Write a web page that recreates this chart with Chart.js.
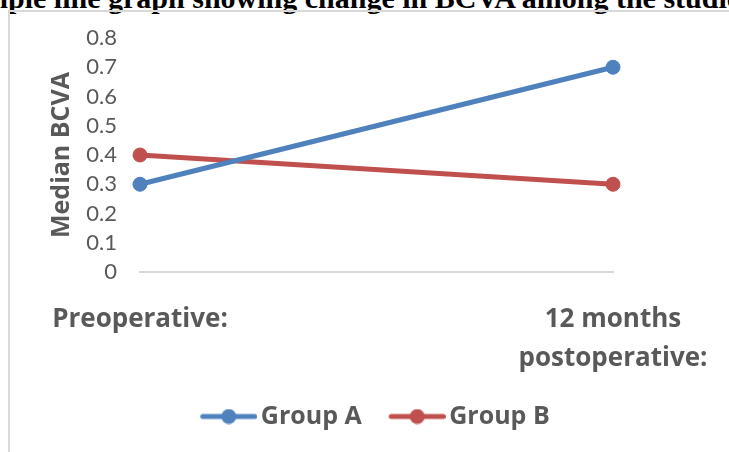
<!DOCTYPE html>
<html>
<head>
<meta charset="utf-8">
<script src="https://cdn.jsdelivr.net/npm/chart.js"></script>
<style>
    html, body { margin: 0; padding: 0; background: #fff; overflow: hidden; }
    body { width: 729px; height: 452px; position: relative; }
    #frame { position: absolute; left: 8px; top: 10px; width: 800px; height: 500px;
             border-left: 2px solid #d9d9d9; border-top: 2px solid #d9d9d9; }
    #title { position: absolute; top: -17px; left: 0; white-space: nowrap;
             font: bold 30px "Liberation Serif"; line-height: 1; color: #000; }
    #grafico { position: absolute; left: 0; top: 0; }
</style>
</head>
<body>
<div id="title"><span id="lead">Sim</span>ple line graph showing change in BCVA among the studied groups</div>
<div id="frame"></div>
<canvas id="grafico" width="729" height="452"></canvas>
<script>
// --- Dados ---
const categorias = ['Preoperative:', ['12 months', 'postoperative:']];
const grupoA = [0.3, 0.7];
const grupoB = [0.4, 0.3];
const nomesSeries = ['Group A', 'Group B'];
const yMin = 0, yMax = 0.8, yPasso = 0.1;
const tituloY = 'Median BCVA';

const azul = '#4F81BD';
const vermelho = '#C0504D';
const cinzaTexto = '#595959';
const fonteNegrito = '"Open Sans"';

// titulo cortado no topo
const titulo = document.getElementById('title');
titulo.style.left = (8 - document.getElementById('lead').offsetWidth) + 'px';

// marcador da legenda: linha com bolinha no meio
function marcador(cor) {
    const c = document.createElement('canvas');
    c.width = 63; c.height = 16;
    const ctx = c.getContext('2d');
    ctx.strokeStyle = cor;
    ctx.lineWidth = 5;
    ctx.lineCap = 'round';
    ctx.beginPath();
    ctx.moveTo(8.5, 8); ctx.lineTo(60.5, 8);
    ctx.stroke();
    ctx.fillStyle = cor;
    ctx.beginPath();
    ctx.arc(34.5, 8, 7.5, 0, Math.PI * 2);
    ctx.fill();
    return c;
}

Chart.defaults.font.family = 'Lato';
Chart.defaults.color = cinzaTexto;

new Chart(document.getElementById('grafico'), {
    type: 'line',
    data: {
        labels: categorias,
        datasets: [{
            label: nomesSeries[0],
            data: grupoA,
            borderColor: azul,
            backgroundColor: azul,
            borderWidth: 5,
            pointRadius: 7,
            pointBorderWidth: 1,
            legendMark: marcador(azul)
        }, {
            label: nomesSeries[1],
            data: grupoB,
            borderColor: vermelho,
            backgroundColor: vermelho,
            borderWidth: 5,
            pointRadius: 7,
            pointBorderWidth: 1,
            legendMark: marcador(vermelho)
        }]
    },
    options: {
        responsive: false,
        animation: false,
        layout: { padding: { top: 38, right: 116, left: 0, bottom: 13 } },
        scales: {
            x: {
                grid: { display: false },
                border: { display: true, color: '#d9d9d9', width: 2 },
                ticks: {
                    padding: 20,
                    maxRotation: 0,
                    autoSkip: false,
                    color: cinzaTexto,
                    font: { family: fonteNegrito, size: 26, weight: 'bold', lineHeight: '39px' }
                },
                afterFit: s => { s.height = 102; }
            },
            y: {
                min: yMin,
                max: yMax,
                grid: { display: false, drawTicks: false },
                border: { display: false },
                ticks: {
                    stepSize: yPasso,
                    autoSkip: false,
                    padding: 23,
                    color: cinzaTexto,
                    font: { size: 22, lineHeight: 1 },
                    callback: v => v === 0 ? '0' : v.toFixed(1)
                },
                title: {
                    display: true,
                    text: tituloY,
                    color: cinzaTexto,
                    font: { family: fonteNegrito, size: 25, weight: 'bold', lineHeight: 1.2 },
                    padding: { top: 47, bottom: 0 }
                },
                afterFit: s => { s.width = 140; }
            }
        },
        plugins: {
            tooltip: { enabled: false },
            legend: {
                display: true,
                position: 'bottom',
                fullSize: false,
                labels: {
                    usePointStyle: true,
                    pointStyleWidth: 45,
                    padding: 30,
                    color: cinzaTexto,
                    font: { family: fonteNegrito, size: 25, weight: 'bold' },
                    generateLabels: chart => chart.data.datasets.map((ds, i) => ({
                        text: ds.label,
                        pointStyle: ds.legendMark,
                        fillStyle: ds.borderColor,
                        strokeStyle: ds.borderColor,
                        lineWidth: 0,
                        fontColor: cinzaTexto,
                        hidden: false,
                        datasetIndex: i
                    }))
                }
            }
        }
    }
});
</script>
</body>
</html>
